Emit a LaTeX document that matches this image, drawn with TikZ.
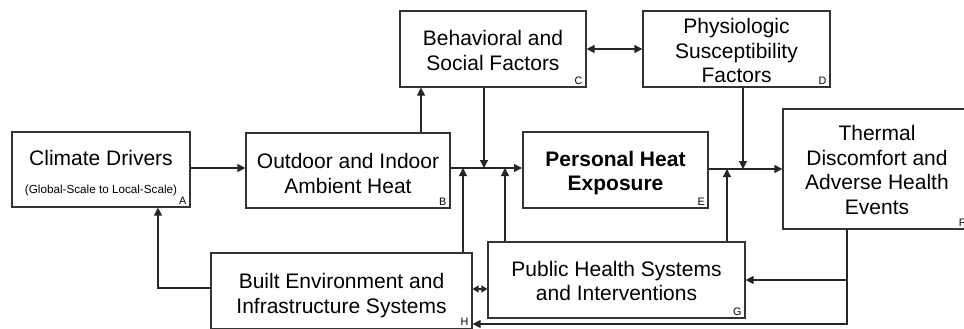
\documentclass[tikz,border=0pt]{standalone}
\usepackage{fontspec}
\setmainfont{Liberation Sans}
\usetikzlibrary{arrows.meta,calc}
\begin{document}
\begin{tikzpicture}[x=1pt,y=-1pt,
  box/.style n args={2}{draw=black!80,line width=1.2pt,minimum width=#1,minimum height=#2,inner sep=0pt},
  txt/.style={align=center,font=\fontsize{21}{24.5}\selectfont,inner sep=0pt},
  lab/.style={font=\fontsize{10.8}{12}\selectfont,inner sep=0pt,anchor=base east},
  ln/.style={draw=black!85,line width=1.2pt},
  arr/.style={ln,-{Triangle[length=8pt,width=8pt]}},
  darr/.style={ln,{Triangle[length=8pt,width=8pt]}-{Triangle[length=8pt,width=8pt]}},
  sdarr/.style={ln,{Triangle[length=6pt,width=7pt]}-{Triangle[length=6pt,width=7pt]}}]
\clip (0,0) rectangle (964,329);
% boxes
\node[box={178pt}{75pt}] (A) at (101,169.5) {};
\node[box={204pt}{75pt}] (B) at (348,170.5) {};
\node[box={186pt}{76pt}] (C) at (493,49) {};
\node[box={187pt}{76pt}] (D) at (736.5,49) {};
\node[box={185pt}{76pt},line width=2pt] (E) at (615.5,170) {};
\node[box={186pt}{120pt}] (F) at (876,169) {};
\node[box={257pt}{76pt}] (G) at (616.5,280) {};
\node[box={261pt}{75.5pt}] (H) at (341.5,290.75) {};
% texts
\node[txt] (tA) at (101,173.6) {Climate Drivers\\[3.5pt]{\fontsize{11.7}{14}\selectfont (Global-Scale to Local-Scale)}};
\node[txt] (tB) at (348,173.5) {Outdoor and Indoor\\Ambient Heat};
\node[txt] (tC) at (493,50.5) {Behavioral and\\Social Factors};
\node[txt] (tD) at (736.5,50.5) {Physiologic\\Susceptibility\\Factors};
\node[txt,font=\fontsize{21}{24.5}\selectfont\bfseries] (tE) at (615.5,173.2) {Personal Heat\\Exposure};
\node[txt] (tF) at (877,170) {Thermal\\Discomfort and\\Adverse Health\\Events};
\node[txt] (tG) at (616.5,281) {Public Health Systems\\and Interventions};
\node[txt] (tH) at (341.5,295.7) {Built Environment and\\Infrastructure Systems};
% letters
\node[lab] (lA) at ($(A.south east)+(-4,-3.5)$) {A};
\node[lab] (lB) at ($(B.south east)+(-4,-3.5)$) {B};
\node[lab] (lC) at ($(C.south east)+(-4,-3.5)$) {C};
\node[lab] (lD) at ($(D.south east)+(-4,-3.5)$) {D};
\node[lab] (lE) at ($(E.south east)+(-4,-3.5)$) {E};
\node[lab] (lF) at ($(F.south east)+(-4,-3.5)$) {F};
\node[lab] (lG) at ($(G.south east)+(-4,-3.5)$) {G};
\node[lab] (lH) at ($(H.south east)+(-4,-3.5)$) {H};
% junction coordinates
\coordinate (mainL) at (0,168);
\coordinate (mainR) at (0,169);
\coordinate (jAB) at (0,168);
\coordinate (xBC) at (421,0);
\coordinate (jC) at (484,168);
\coordinate (jH) at (463,168);
\coordinate (jG1) at (505,168);
\coordinate (jD) at (743,169);
\coordinate (jG2) at (727,169);
\coordinate (fx) at (847,280);
\coordinate (fb) at (847,324);
\coordinate (ha) at (158,288);
\coordinate (hg) at (0,289);
% connectors
\draw[arr] (A.east |- jAB) -- (B.west |- jAB);
\draw[arr] (B.north -| xBC) -- (C.south -| xBC);
\draw[darr] (C.east) -- (D.west);
\draw[arr] (B.east |- mainL) -- (E.west |- mainL);
\draw[arr] (C.south -| jC) -- (jC);
\draw[arr] (H.north -| jH) -- (jH);
\draw[arr] (G.north -| jG1) -- (jG1);
\draw[arr] (E.east |- mainR) -- (F.west |- mainR);
\draw[arr] (D.south -| jD) -- (jD);
\draw[arr] (G.north -| jG2) -- (jG2);
\draw[arr] (F.south -| fx) -- (fx) -- (G.east |- fx);
\draw[arr] (fx) -- (fb) -- (H.east |- fb);
\draw[arr] (H.west |- ha) -- (ha) -- (A.south -| ha);
\draw[sdarr] (H.east |- hg) -- (G.west |- hg);
\end{tikzpicture}
\end{document}
